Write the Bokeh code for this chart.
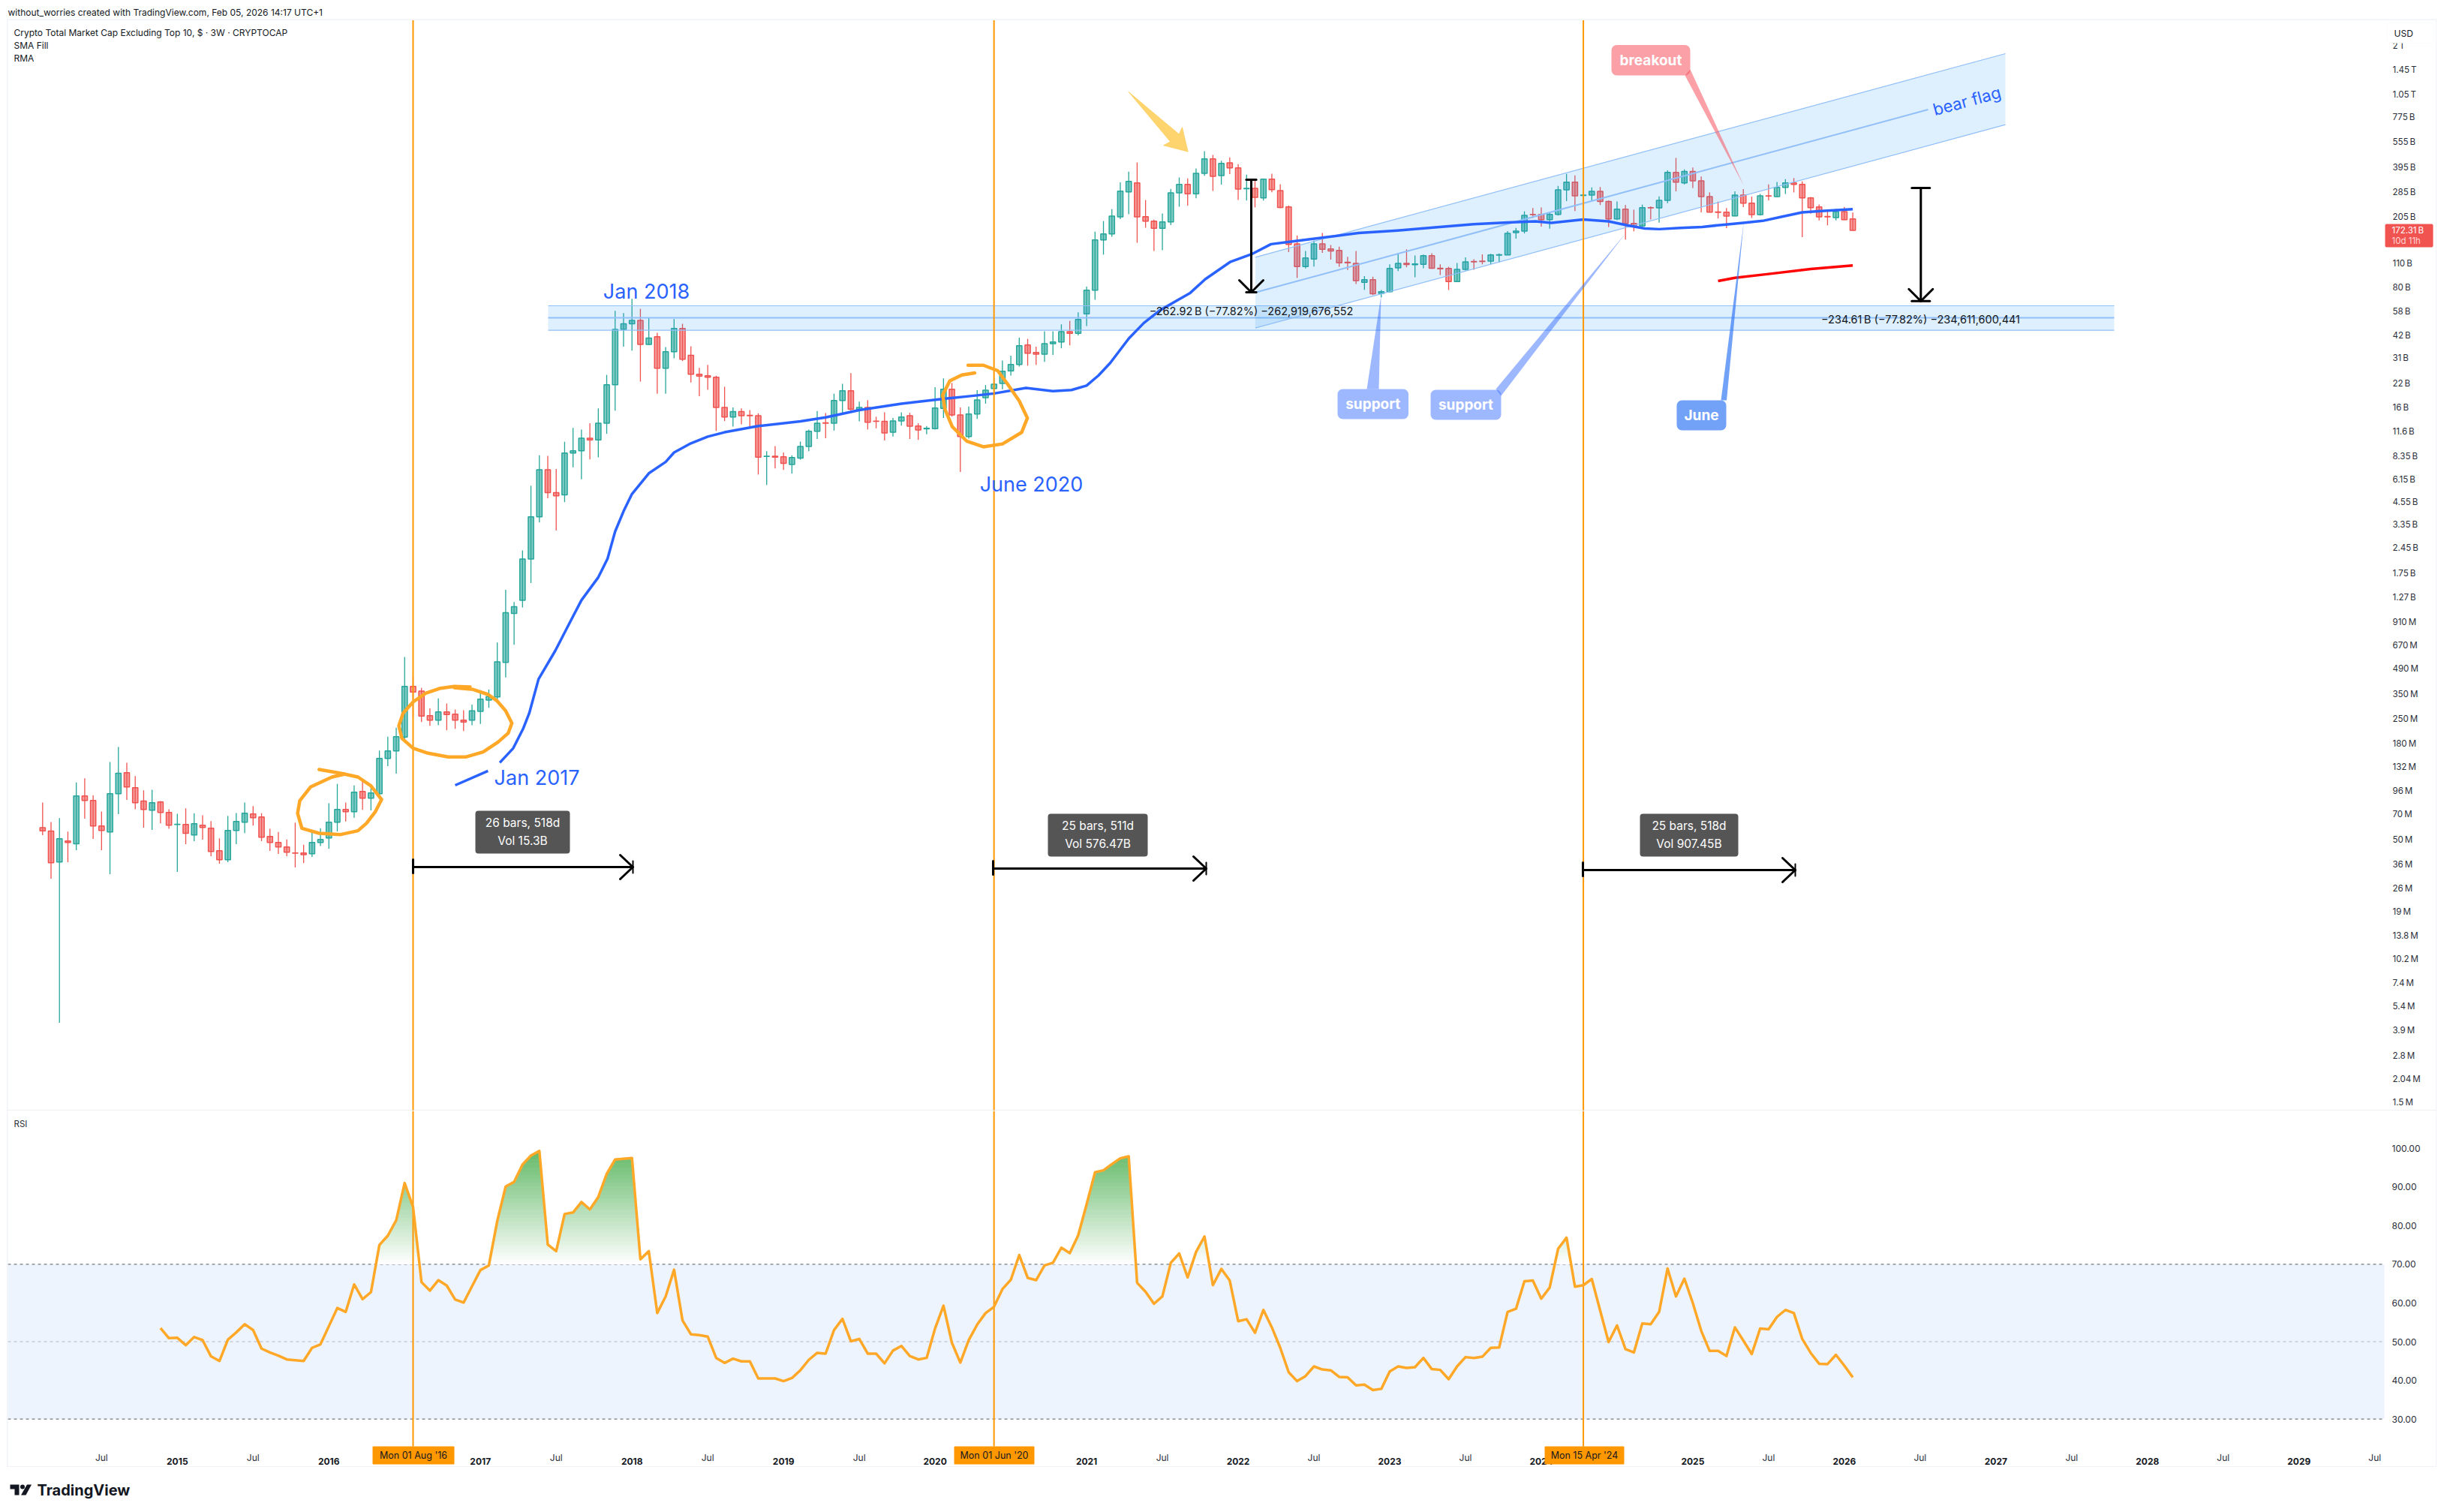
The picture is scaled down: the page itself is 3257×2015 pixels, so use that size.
import numpy as np
from bokeh.plotting import figure
from bokeh.layouts import column
from bokeh.models import (ColumnDataSource, Range1d, FixedTicker, Label, LabelSet,
                          BoxAnnotation, NumeralTickFormatter)
from bokeh.core.properties import value
from bokeh.embed import file_html
from bokeh.resources import INLINE

# ---------- 3W candles, log10 of market cap in USD, bar 0 .. 215 ----------
log10_open = [
 7.768,7.748,7.569,7.691,7.674,7.952,7.926,7.778,7.743,7.965,
 8.087,8.000,7.922,7.869,7.917,7.856,7.787,7.787,7.726,7.782,
 7.765,7.634,7.582,7.752,7.800,7.848,7.830,7.717,7.682,7.656,
 7.621,7.621,7.617,7.682,7.708,7.800,7.874,7.861,7.978,7.939,
 7.965,8.170,8.213,8.294,8.587,8.560,8.417,8.391,8.439,8.426,
 8.391,8.391,8.443,8.508,8.526,8.727,9.010,9.087,9.326,9.571,
 9.844,9.711,9.698,9.941,9.954,10.027,10.017,10.114,10.337,10.657,
 10.690,10.710,10.570,10.615,10.432,10.528,10.663,10.507,10.397,10.389,
 10.380,10.205,10.149,10.181,10.159,10.157,9.921,9.922,9.919,9.874,
 9.911,9.979,10.067,10.116,10.114,10.245,10.302,10.192,10.205,10.126,
 10.124,10.061,10.127,10.157,10.097,10.081,10.082,10.199,10.310,10.161,
 10.036,10.167,10.262,10.315,10.344,10.417,10.454,10.567,10.524,10.514,
 10.575,10.585,10.645,10.635,10.748,10.885,11.176,11.211,11.310,11.455,
 11.507,11.311,11.285,11.244,11.281,11.450,11.498,11.444,11.563,11.646,
 11.550,11.624,11.594,11.473,11.476,11.420,11.529,11.463,11.368,11.154,
 11.022,11.066,11.154,11.124,11.115,11.047,11.041,10.931,10.946,10.866,
 10.876,11.014,11.041,11.033,11.035,11.085,11.012,11.011,10.935,11.006,
 11.051,11.054,11.054,11.088,11.089,11.219,11.228,11.324,11.324,11.294,
 11.324,11.467,11.512,11.434,11.437,11.458,11.399,11.298,11.355,11.272,
 11.258,11.364,11.362,11.406,11.568,11.507,11.573,11.519,11.428,11.339,
 11.338,11.316,11.437,11.390,11.323,11.432,11.428,11.481,11.507,11.498,
 11.420,11.368,11.312,11.306,11.341,11.298]
log10_high = [
 7.914,7.801,7.823,7.745,8.030,8.054,7.956,7.862,8.149,8.236,
 8.145,8.067,7.984,7.988,7.923,7.875,7.849,7.880,7.852,7.840,
 7.806,7.706,7.836,7.853,7.914,7.893,7.852,7.762,7.743,7.700,
 7.797,7.669,7.743,7.765,7.910,8.022,7.914,8.013,8.043,7.997,
 8.215,8.296,8.348,8.758,8.646,8.579,8.460,8.518,8.488,8.453,
 8.449,8.482,8.565,8.569,8.842,9.147,9.077,9.376,9.751,9.927,
 9.924,9.848,10.006,10.086,10.077,10.114,10.199,10.394,10.765,10.752,
 10.835,10.777,10.723,10.638,10.555,10.717,10.690,10.560,10.434,10.452,
 10.389,10.325,10.205,10.199,10.190,10.171,9.951,9.981,9.944,9.927,
 10.007,10.077,10.184,10.172,10.285,10.342,10.404,10.239,10.247,10.151,
 10.177,10.144,10.177,10.174,10.114,10.097,10.322,10.374,10.347,10.205,
 10.210,10.305,10.335,10.377,10.477,10.505,10.610,10.603,10.557,10.647,
 10.647,10.687,10.707,10.757,10.906,11.224,11.286,11.355,11.510,11.572,
 11.626,11.408,11.294,11.330,11.472,11.539,11.533,11.591,11.691,11.669,
 11.635,11.655,11.616,11.555,11.524,11.529,11.561,11.500,11.376,11.202,
 11.112,11.173,11.217,11.147,11.137,11.079,11.112,10.967,10.963,10.886,
 11.035,11.098,11.122,11.086,11.092,11.099,11.035,11.021,11.043,11.075,
 11.064,11.093,11.096,11.098,11.228,11.246,11.342,11.361,11.365,11.338,
 11.490,11.559,11.551,11.472,11.481,11.483,11.405,11.400,11.379,11.352,
 11.381,11.371,11.429,11.580,11.652,11.585,11.596,11.544,11.452,11.399,
 11.361,11.458,11.471,11.428,11.443,11.498,11.513,11.529,11.535,11.516,
 11.426,11.382,11.352,11.356,11.368,11.335]
log10_low = [
 7.724,7.472,6.637,7.568,7.637,7.820,7.703,7.637,7.498,7.846,
 7.929,7.875,7.768,7.755,7.793,7.761,7.511,7.672,7.690,7.698,
 7.603,7.559,7.568,7.672,7.737,7.780,7.690,7.633,7.616,7.603,
 7.537,7.563,7.598,7.661,7.646,7.746,7.804,7.826,7.871,7.868,
 7.933,8.125,8.081,8.279,8.410,8.381,8.359,8.362,8.333,8.341,
 8.328,8.362,8.370,8.463,8.501,8.639,8.829,9.045,9.187,9.538,
 9.678,9.491,9.656,9.858,9.788,9.904,9.916,10.052,10.186,10.557,
 10.535,10.355,10.567,10.284,10.284,10.490,10.474,10.350,10.270,10.307,
 10.069,10.126,10.094,10.107,10.086,9.816,9.756,9.851,9.843,9.821,
 9.902,9.951,10.022,10.027,10.071,10.171,10.186,10.124,10.077,10.084,
 10.014,10.036,10.099,10.022,10.017,10.049,10.077,10.144,10.152,9.831,
 10.024,10.139,10.227,10.285,10.310,10.390,10.442,10.447,10.452,10.469,
 10.510,10.548,10.565,10.623,10.677,10.829,11.091,11.195,11.297,11.326,
 11.160,11.247,11.112,11.117,11.262,11.369,11.375,11.418,11.549,11.460,
 11.497,11.558,11.408,11.405,11.365,11.405,11.453,11.360,11.106,10.956,
 11.011,11.022,11.101,11.062,11.021,11.002,10.921,10.887,10.857,10.844,
 10.872,10.996,11.018,10.960,11.012,11.009,10.973,10.886,10.934,10.999,
 11.004,11.035,11.035,11.046,11.088,11.184,11.214,11.304,11.254,11.242,
 11.318,11.402,11.344,11.371,11.402,11.379,11.252,11.292,11.179,11.226,
 11.255,11.295,11.277,11.390,11.458,11.498,11.478,11.336,11.336,11.301,
 11.245,11.313,11.367,11.304,11.318,11.406,11.423,11.443,11.452,11.193,
 11.329,11.290,11.261,11.290,11.292,11.231]
log10_close = [
 7.750,7.565,7.704,7.682,7.952,7.926,7.778,7.752,7.965,8.083,
 8.004,7.913,7.874,7.913,7.856,7.782,7.788,7.735,7.791,7.769,
 7.630,7.582,7.752,7.804,7.852,7.826,7.713,7.682,7.656,7.626,
 7.620,7.611,7.682,7.700,7.800,7.874,7.861,7.974,7.939,7.969,
 8.170,8.213,8.296,8.587,8.555,8.415,8.391,8.439,8.424,8.391,
 8.381,8.446,8.513,8.529,8.730,9.015,9.050,9.326,9.571,9.844,
 9.711,9.693,9.941,9.954,10.027,10.017,10.114,10.337,10.658,10.690,
 10.710,10.570,10.607,10.432,10.528,10.663,10.484,10.397,10.387,10.380,
 10.205,10.149,10.181,10.157,10.157,9.917,9.922,9.917,9.881,9.914,
 9.979,10.067,10.114,10.114,10.245,10.302,10.195,10.205,10.119,10.124,
 10.057,10.127,10.149,10.096,10.074,10.084,10.202,10.310,10.161,10.036,
 10.167,10.249,10.305,10.340,10.415,10.454,10.563,10.519,10.514,10.575,
 10.585,10.645,10.635,10.715,10.885,11.176,11.211,11.315,11.459,11.516,
 11.310,11.285,11.244,11.281,11.450,11.498,11.444,11.563,11.646,11.545,
 11.620,11.594,11.471,11.476,11.423,11.529,11.468,11.365,11.150,11.022,
 11.072,11.154,11.122,11.112,11.044,11.044,10.940,10.946,10.864,10.876,
 11.011,11.041,11.034,11.037,11.085,11.012,11.009,10.935,11.006,11.049,
 11.049,11.051,11.089,11.091,11.215,11.228,11.319,11.323,11.294,11.324,
 11.467,11.512,11.432,11.437,11.458,11.399,11.298,11.355,11.271,11.258,
 11.364,11.362,11.406,11.568,11.512,11.573,11.519,11.428,11.338,11.336,
 11.315,11.437,11.390,11.323,11.432,11.431,11.481,11.507,11.498,11.420,
 11.364,11.310,11.310,11.341,11.294,11.232]

nan = float("nan")
rma_bar = [49,52.9,nan,54.3,55.9,57.1,57.8,58.9,60.9,62.3,
 64,66,67.1,68,69,70,72,74,75,77,
 79,81,85,90,93,97,102,107,110.8,113,
 116.8,120,122.2,124,125.4,126.8,129,130.8,132.7,135,
 136.3,138.1,141.1,143.6,145.9,148.1,151.8,156.3,160.9,165.4,
 170,174,177.3,179.2,183,186,188.2,190.3,192,194.5,
 197.1,199.7,202.2,204.3,206.5,209,211.6,215]
rma_log10 = [8.014,8.097,nan,8.145,8.229,8.345,8.432,8.629,8.795,8.928,
 9.087,9.220,9.328,9.486,9.603,9.703,9.823,9.889,9.944,9.997,
 10.036,10.061,10.097,10.124,10.147,10.190,10.227,10.255,10.274,10.286,
 10.318,10.300,10.306,10.332,10.390,10.463,10.604,10.695,10.768,10.833,
 10.869,10.949,11.050,11.094,11.152,11.166,11.188,11.217,11.231,11.249,
 11.268,11.278,11.284,11.275,11.295,11.284,11.261,11.243,11.239,11.246,
 11.252,11.265,11.277,11.287,11.310,11.336,11.345,11.355]
red_bar = [199,201,205,210,215]
red_log10 = [10.938,10.957,10.979,11.008,11.028]

# RSI, bar 14 .. 215
rsi_first_bar = 14
rsi_values = [
 53.5,50.9,51.0,49.1,51.2,50.4,46.2,45.0,50.5,52.4,
 54.5,53.0,48.2,47.2,46.4,45.4,45.2,45.0,48.4,49.3,
 54.0,58.7,57.7,64.8,61.0,62.8,75.0,77.4,81.4,91.0,
 84.8,65.4,63.2,65.9,64.5,60.9,60.1,64.3,68.5,69.7,
 81.2,90.1,91.3,95.8,98.1,99.3,75.1,73.4,83.0,83.4,
 86.1,84.2,87.4,93.4,97.1,97.3,97.5,71.3,73.4,57.4,
 61.7,68.6,55.5,51.9,51.7,51.3,45.8,44.5,45.6,44.9,
 44.9,40.5,40.5,40.5,39.8,40.6,42.6,45.3,47.1,46.9,
 53.0,55.9,50.1,50.7,46.9,46.9,44.4,47.7,48.9,46.3,
 45.4,45.8,53.4,59.3,49.7,44.6,50.4,54.4,57.4,59.0,
 63.6,66.0,72.4,66.5,65.9,69.7,70.4,74.3,72.9,77.5,
 85.5,93.8,94.3,95.9,97.4,97.9,65.2,62.9,59.8,61.7,
 70.4,72.8,66.6,73.2,77.2,64.6,68.8,65.8,55.3,55.8,
 52.3,58.2,53.7,48.4,42.1,39.8,41.1,43.6,42.8,42.6,
 40.9,40.8,38.7,38.9,37.5,37.8,42.3,43.6,43.2,43.4,
 45.8,42.9,42.7,40.3,43.6,46.0,45.8,46.1,48.4,48.5,
 57.7,58.5,65.6,65.8,61.1,64.0,74.0,76.9,64.2,64.6,
 66.2,58.0,49.9,54.2,48.1,47.2,54.7,54.5,57.7,68.9,
 61.7,66.3,60.0,52.8,47.6,47.6,46.3,53.7,50.3,46.8,
 53.4,53.2,56.4,58.2,57.4,50.7,47.1,44.3,44.2,46.6,
 43.8,40.8]

price_ticks = [2e12,1.45e12,1.05e12,775e9,555e9,395e9,285e9,205e9,110e9,80e9,58e9,42e9,31e9,22e9,16e9,
 11.6e9,8.35e9,6.15e9,4.55e9,3.35e9,2.45e9,1.75e9,1.27e9,910e6,670e6,490e6,350e6,250e6,180e6,132e6,
 96e6,70e6,50e6,36e6,26e6,19e6,13.8e6,10.2e6,7.4e6,5.4e6,3.9e6,2.8e6,2.04e6,1.5e6]
price_tick_labels = ["2\u202fT","1.45\u202fT","1.05\u202fT","775\u202fB","555\u202fB","395\u202fB","285\u202fB","205\u202fB",
 "110\u202fB","80\u202fB","58\u202fB","42\u202fB","31\u202fB","22\u202fB","16\u202fB","11.6\u202fB","8.35\u202fB","6.15\u202fB",
 "4.55\u202fB","3.35\u202fB","2.45\u202fB","1.75\u202fB","1.27\u202fB","910\u202fM","670\u202fM","490\u202fM","350\u202fM",
 "250\u202fM","180\u202fM","132\u202fM","96\u202fM","70\u202fM","50\u202fM","36\u202fM","26\u202fM","19\u202fM","13.8\u202fM",
 "10.2\u202fM","7.4\u202fM","5.4\u202fM","3.9\u202fM","2.8\u202fM","2.04\u202fM","1.5\u202fM"]
year_bars = [16,34,52,70,88,106,124,142,160,178,196,214,232,250,268]
year_labels = ["2015","2016","2017","2018","2019","2020","2021","2022","2023","2024","2025","2026","2027","2028","2029"]
jul_bars = [7,25,43,61,79,97,115,133,151,169,187,205,223,241,259,277]
event_bars = [44,113,183]
event_labels = ["Mon 01 Aug '16","Mon 01 Jun '20","Mon 15 Apr '24"]

# ---------- page-pixel helpers for the hand drawings ----------
def bx(px): return (px - 56.3) / 11.22
def lg(py): return 12.161 - (py - 93) / 229.8
def py(p): return 10 ** lg(p)
def ry(p): return 70 - (p - 1684.4) / 5.155

FONT = "Inter"
GREEN, RED = "#26A69A", "#EF5350"
BLUE = "#2962FF"
ORANGE = "#FF9800"
BORDER = "#F0F3FA"
INK = "#131722"

# the frames fill the whole page; the scales are pinned inside them with fixed_location
x_range = Range1d(bx(0), bx(3247))
PANE_LEFT, PANE_RIGHT = 10, 3177

p1 = figure(width=3247, height=1480, output_backend="svg", toolbar_location=None,
            x_range=x_range, y_range=Range1d(py(1480), py(0)), y_axis_type="log",
            y_axis_location="right", x_axis_location=None,
            min_border_left=0, min_border_right=0, min_border_top=0, min_border_bottom=0,
            background_fill_color="white", border_fill_color="white", outline_line_color=None)
p1.grid.visible = False
ax = p1.yaxis[0]
ax.fixed_location = bx(PANE_RIGHT)
ax.ticker = FixedTicker(ticks=price_ticks)
ax.major_label_overrides = dict(zip(price_ticks, price_tick_labels))
ax.axis_line_color = None
ax.major_tick_line_color = None
ax.minor_tick_line_color = None
ax.major_label_standoff = 5
ax.major_label_text_font = FONT
ax.major_label_text_font_size = "11.5px"
ax.major_label_text_color = "#2A2E39"

# ---------- candles ----------
o, h, l, c = [10 ** np.array(a) for a in (log10_open, log10_high, log10_low, log10_close)]
bars = np.arange(len(o))
up = c >= o
src = ColumnDataSource(dict(x=bars, o=o, h=h, l=l, c=c,
                            top=np.maximum(o, c), bottom=np.minimum(o, c),
                            col=[GREEN if u else RED for u in up]))
p1.segment("x", "l", "x", "h", source=src, line_color="col", line_width=1.3)
p1.vbar("x", width=0.64, top="top", bottom="bottom", source=src, fill_color="col", fill_alpha=0.58,
        line_color="col", line_width=1.5)

# ---------- support / resistance zone ----------
zone_l, zone_r = bx(730), bx(2817)
p1.quad(left=[zone_l], right=[zone_r], top=[py(407)], bottom=[py(439.6)], fill_color="#2196F3", fill_alpha=0.15, line_color=None)
for yy, w in ((407, 1.2), (423, 2), (439.6, 1.2)):
    p1.line([zone_l, zone_r], [py(yy), py(yy)], line_color="#90BFF9", line_width=w)

# ---------- bear-flag channel ----------
cl, cr = bx(1672.4), bx(2672)
p1.patch([cl, cr, cr, cl], [py(342.3), py(71), py(165.7), py(436.7)], fill_color="#2196F3", fill_alpha=0.15, line_color=None)
p1.line([cl, cr], [py(342.3), py(71)], line_color="#90BFF9", line_width=1.2)
p1.line([cl, cr], [py(436.7), py(165.7)], line_color="#90BFF9", line_width=1.2)
p1.line([cl, bx(2569)], [py(389.3), py(145.5)], line_color="#90BFF9", line_width=2)

# ---------- moving averages ----------
p1.line(rma_bar, [10 ** v for v in rma_log10], line_color=BLUE, line_width=3.5, line_join="round")
p1.line(red_bar, [10 ** v for v in red_log10], line_color="#FF0000", line_width=3.5, line_join="round")

# ---------- event verticals ----------
for b in event_bars:
    p1.line([b, b], [py(26), py(1480)], line_color=ORANGE, line_width=2)

# ---------- freehand ellipses ----------
def pen(points, ox, oy, fx, fy):
    p1.line([bx(ox + a / fx) for a, _ in points], [py(oy + b / fy) for _, b in points],
            line_color="#FFA726", line_width=4.5, line_join="round", line_cap="round")
pen([(740,225),(790,240),(830,255),(860,290),(885,345),(870,395),(850,440),(830,470),(790,485),(740,480),
     (700,460),(690,400),(695,350),(720,295),(770,255),(800,243)], 0, 950, 1.742, 3)
pen([(288,165),(225,163),(170,170),(110,190),(60,225),(20,270),(3,320),(15,370),(60,410),(120,430),(200,445),
     (270,445),(340,425),(400,385),(440,350),(455,310),(430,260),(395,220),(360,195),(300,175),(225,168)], 530, 860, 3, 3)
pen([(1238,356),(1270,356),(1300,375),(1320,420),(1345,480),(1362,540),(1350,590),(1310,630),(1270,640),
     (1235,620),(1205,570),(1190,510),(1185,460),(1200,410),(1225,390),(1252,383)], 500, 350, 1.568, 2.613)

# ---------- yellow arrow ----------
arrow_pts = [(1503.3,121.7),(1570.7,178.3),(1575,169),(1582.7,201.7),(1550,193.3),(1559,188.3)]
p1.patch([bx(a) for a, _ in arrow_pts], [py(b) for _, b in arrow_pts], fill_color="#FDC63F", fill_alpha=0.75,
         line_color="#FDC63F", line_alpha=0.5, line_width=1)

# ---------- black measure arrows ----------
def black(pts, w=3):
    p1.line([bx(a) for a, _ in pts], [py(b) for _, b in pts], line_color="black", line_width=w, line_cap="round", line_join="round")
for x0, x1, yy in ((550, 843, 1155), (1323, 1607, 1157), (2109, 2392, 1159)):
    black([(x0, yy), (x1, yy)])
    black([(x0, yy - 10), (x0, yy + 8)])
    black([(x1 - 17, yy - 16), (x1, yy), (x1 - 17, yy + 16)])
    black([(x1, yy - 8), (x1, yy + 8)], 2)
for xx, y0, y1, cap, hw in ((1667, 239, 389, 6.6, 16), (2559.3, 250, 400.8, 12, 16)):
    black([(xx, y0), (xx, y1)])
    black([(xx - cap, y0), (xx + cap, y0)])
    black([(xx - cap, y1), (xx + cap, y1)])
    black([(xx - hw, y1 - 16), (xx, y1), (xx + hw, y1 - 16)])

def box(fig, fy, x0, x1, y0, y1, fill, alpha=1.0, radius=0, line=None):
    fig.add_layout(BoxAnnotation(left=bx(x0), right=bx(x1), top=fy(y0), bottom=fy(y1), fill_color=fill, fill_alpha=alpha,
                                 line_color=line, border_radius=radius))

def text(fig, fy, s, x, y, size, color=INK, align="left", style="normal", angle=0.0):
    fig.add_layout(Label(x=bx(x), y=fy(y), text=s, text_font=FONT, text_font_size=f"{size}px", text_color=color,
                         text_align=align, text_baseline="middle", text_font_style=style, angle=angle))

# ---------- callouts ----------
def callout(x0, x1, y0, y1, pointer, s, fill, alpha):
    p1.patch([bx(a) for a, _ in pointer], [py(b) for _, b in pointer], fill_color=fill, fill_alpha=alpha, line_color=None)
    box(p1, py, x0, x1, y0, y1, fill, alpha, 7)
    text(p1, py, s, (x0 + x1) / 2, (y0 + y1) / 2, 19, "white", "center", "bold")
callout(1782, 1876.5, 518, 558, [(1821, 518), (1837, 518), (1840, 393)], "support", BLUE, 0.45)
callout(1906, 2000, 519, 559, [(1993, 518), (2000, 527), (2166.5, 309.6)], "support", BLUE, 0.45)
callout(2234, 2300, 533, 573, [(2293, 533), (2300.5, 533), (2323.4, 294.5)], "June", "#2F74F5", 0.68)
callout(2147, 2252, 59.5, 100, [(2245, 100), (2252, 92), (2323.4, 247)], "breakout", "#F7525F", 0.55)

# ---------- bars-range tooltips ----------
for x0, x1, y0, y1, a, b in ((633, 759, 1080, 1137, "26 bars, 518d", "Vol 15.3B"),
                             (1396, 1529, 1084, 1141, "25 bars, 511d", "Vol 576.47B"),
                             (2185, 2316, 1084, 1141, "25 bars, 518d", "Vol 907.45B")):
    box(p1, py, x0, x1, y0, y1, "#555555", 1.0, 4)
    text(p1, py, a, (x0 + x1) / 2, y0 + 16, 15.5, "white", "center")
    text(p1, py, b, (x0 + x1) / 2, y0 + 40, 15.5, "white", "center")

# ---------- drawing texts ----------
text(p1, py, "Jan 2018", 861, 387.5, 27, BLUE, "center")
text(p1, py, "June 2020", 1374, 645, 27, BLUE, "center")
text(p1, py, "Jan 2017", 715, 1036, 27, BLUE, "center")
text(p1, py, "bear flag", 2620.6, 134, 22, BLUE, "center", angle=0.265)
text(p1, py, "\u2212262.92\u202fB (\u221277.82%) \u2212262,919,676,552", 1667, 414, 14.5, INK, "center")
text(p1, py, "\u2212234.61\u202fB (\u221277.82%) \u2212234,611,600,441", 2559, 425, 14.5, INK, "center")

# ---------- header and legend ----------
text(p1, py, "without_worries created with TradingView.com, Feb 05, 2026 14:17 UTC+1", 10, 16, 12)
text(p1, py, "Crypto Total Market Cap Excluding Top 10, $ \u00b7 3W \u00b7 CRYPTOCAP", 18, 42.5, 12)
text(p1, py, "SMA Fill", 18, 60, 12)
text(p1, py, "RMA", 18, 77, 12)

# ---------- price scale extras ----------
box(p1, py, 3181, 3243, 30, 57, "white", 1.0, 4, BORDER)
text(p1, py, "USD", 3190, 43.5, 12)
box(p1, py, 3178, 3242, 298, 329, "#F05350", 1.0, 2)
text(p1, py, "172.31\u202fB", 3187, 306.5, 11.5, "white")
text(p1, py, "10d 11h", 3187, 320, 11.5, "#FFD5D5")

# ---------- pane borders ----------
box(p1, py, 8.5, 3247, 25, 26.5, BORDER)
box(p1, py, 8.5, 10, 25, 1480, BORDER)
box(p1, py, 3245.5, 3247, 25, 1480, BORDER)
box(p1, py, 8.5, 3247, 1479, 1480, "#E0E3EB")

# ================= RSI pane =================
p2 = figure(width=3247, height=475, output_backend="svg", toolbar_location=None,
            x_range=x_range, y_range=Range1d(ry(1955), ry(1480)),
            y_axis_location="right",
            min_border_left=0, min_border_right=0, min_border_top=0, min_border_bottom=0,
            background_fill_color="white", border_fill_color="white", outline_line_color=None)
p2.grid.visible = False
ay = p2.yaxis[0]
ay.fixed_location = bx(PANE_RIGHT)
ay.ticker = FixedTicker(ticks=[30, 40, 50, 60, 70, 80, 90, 100])
ay.formatter = NumeralTickFormatter(format="0.00")
ay.axis_line_color = None
ay.major_tick_line_color = None
ay.minor_tick_line_color = None
ay.major_label_standoff = 4
ay.major_label_text_font = FONT
ay.major_label_text_font_size = "12px"
ay.major_label_text_color = "#2A2E39"
axx = p2.xaxis[0]
axx.fixed_location = ry(1927)
axx.ticker = FixedTicker(ticks=year_bars)
axx.major_label_overrides = dict(zip(year_bars, year_labels))
axx.axis_line_color = None
axx.major_tick_line_color = None
axx.minor_tick_line_color = None
axx.major_label_standoff = 9
axx.major_label_text_font = FONT
axx.major_label_text_font_size = "12px"
axx.major_label_text_font_style = "bold"
axx.major_label_text_color = INK

pane_l, pane_r = bx(PANE_LEFT), bx(PANE_RIGHT)
p2.quad(left=[pane_l], right=[pane_r], top=[70], bottom=[30], fill_color="#EEF4FE", line_color=None)
for lvl, col in ((70, "#787B86"), (50, "#B2B5BE"), (30, "#787B86")):
    p2.line([pane_l, pane_r], [lvl, lvl], line_color=col, line_width=1.2, line_dash="4 4")

rsi_bars = np.arange(rsi_first_bar, rsi_first_bar + len(rsi_values))
fine_x = np.arange(rsi_first_bar, rsi_bars[-1] + 0.01, 0.2)
fine_r = np.interp(fine_x, rsi_bars, rsi_values)
for k in range(30):
    lo, hi = 70 + k, 71.1 + k
    t = (k + 0.5) / 29
    colr = "#%02x%02x%02x" % (int(255 + (102 - 255) * t), int(255 + (187 - 255) * t), int(255 + (106 - 255) * t))
    p2.varea(fine_x, np.minimum(fine_r, lo), np.minimum(fine_r, hi), fill_color=colr)

for b in event_bars:
    p2.line([b, b], [ry(1480), ry(1927)], line_color=ORANGE, line_width=2)
p2.line(rsi_bars, rsi_values, line_color="#FFA726", line_width=3.5, line_join="round")

text(p2, ry, "RSI", 18, 1497, 11.5, "#2A2E39")

jul_src = ColumnDataSource(dict(x=jul_bars, y=[ry(1942)] * len(jul_bars), t=["Jul"] * len(jul_bars)))
p2.add_layout(LabelSet(x="x", y="y", text="t", source=jul_src, text_font=value(FONT), text_font_size="12px",
                       text_color="#2A2E39", text_align="center", text_baseline="middle"))

for b, s, x0, x1 in zip(event_bars, event_labels, (496, 1271, 2058), (605, 1378, 2164)):
    box(p2, ry, x0, x1, 1927, 1951, ORANGE, 1.0, 1)
    text(p2, ry, s, (x0 + x1) / 2, 1939, 12.5, "#131722", "center")

box(p2, ry, 8.5, 10, 1480, 1955, BORDER)
box(p2, ry, 3245.5, 3247, 1480, 1955, BORDER)
box(p2, ry, 8.5, 3247, 1953.5, 1955, BORDER)

# ================= footer =================
p3 = figure(width=3247, height=50, output_backend="svg", toolbar_location=None,
            x_range=Range1d(0, 3247), y_range=Range1d(2005, 1955), x_axis_location=None, y_axis_location=None,
            min_border_left=0, min_border_right=0, min_border_top=0, min_border_bottom=0,
            background_fill_color="white", border_fill_color="white", outline_line_color=None)
p3.grid.visible = False
p3.patch([13, 25, 25, 19, 19, 13], [1978, 1978, 1992, 1992, 1984, 1984], fill_color="#131722", line_color=None)
p3.circle([29.5], [1981], radius=3, fill_color="#131722", line_color=None)
p3.patch([35.5, 41.5, 34, 27.5], [1978, 1978, 1992, 1992], fill_color="#131722", line_color=None)
p3.text([49], [1985], text=["TradingView"], text_font=value(FONT), text_font_size="20px", text_font_style="bold",
        text_color="#131722", text_baseline="middle")

layout = column(p1, p2, p3, spacing=0)
open("out.html", "w").write(file_html(layout, INLINE))
